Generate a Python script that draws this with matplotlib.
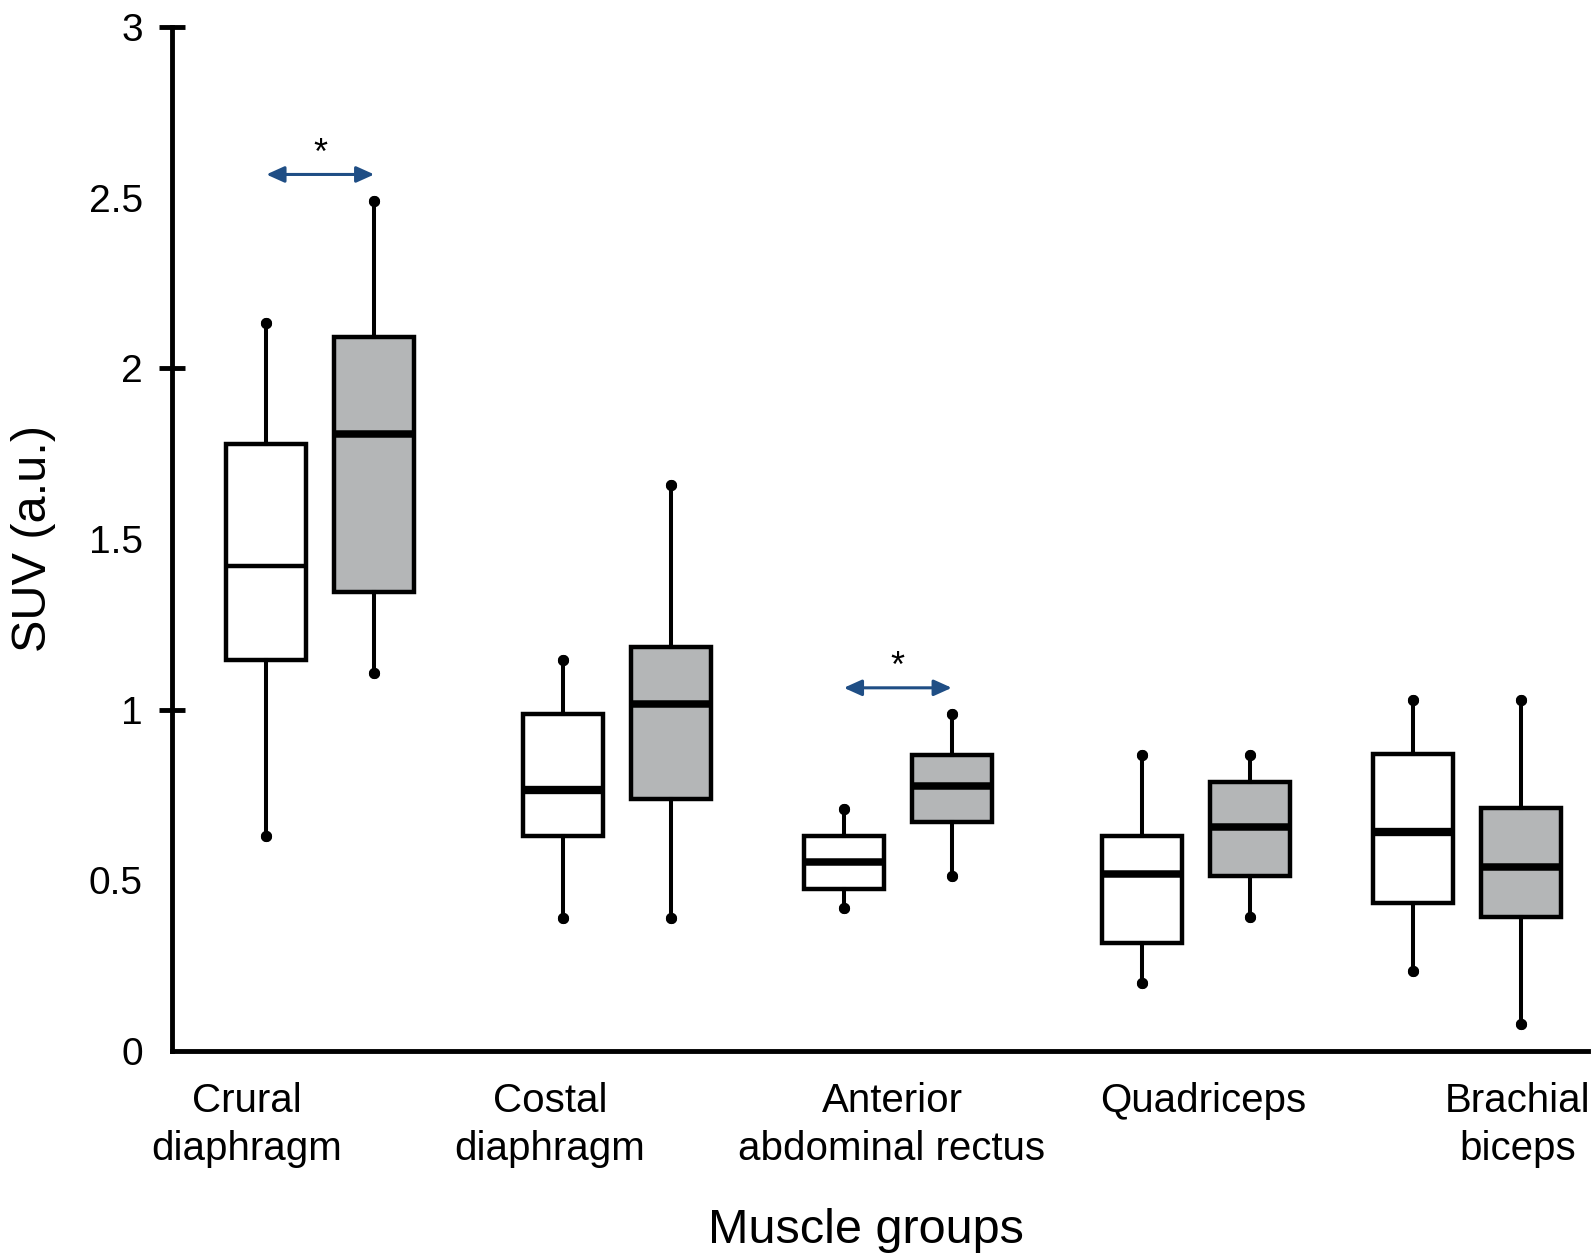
import matplotlib
matplotlib.use("Agg")
import matplotlib.pyplot as plt

plt.rcParams['font.family'] = ['Liberation Sans', 'DejaVu Sans']

# five-number summaries (SUV, a.u.)
groups = ['Crural\ndiaphragm', 'Costal\ndiaphragm', 'Anterior\nabdominal rectus',
          'Quadriceps', 'Brachial\nbiceps']
white_low = [0.63, 0.39, 0.42, 0.20, 0.235]
white_q1 = [1.145, 0.63, 0.475, 0.316, 0.435]
white_med = [1.42, 0.765, 0.555, 0.52, 0.642]
white_q3 = [1.778, 0.987, 0.631, 0.631, 0.869]
white_high = [2.134, 1.146, 0.71, 0.867, 1.028]

gray_low = [1.106, 0.39, 0.512, 0.393, 0.078]
gray_q1 = [1.344, 0.737, 0.672, 0.514, 0.393]
gray_med = [1.807, 1.016, 0.776, 0.655, 0.538]
gray_q3 = [2.093, 1.185, 0.867, 0.787, 0.711]
gray_high = [2.489, 1.659, 0.987, 0.867, 1.028]

# significance markers: (group index, arrow height, star height)
signif = [(0, 2.568, 2.60), (2, 1.064, 1.095)]

# layout
group_x = [1.483, 4.447, 7.258, 10.24, 12.948]
pair_off = 0.54
label_x = [0.75, 3.78, 7.20, 10.31, 13.46]

fig = plt.figure(figsize=(15.96, 12.55), dpi=100)
ax = fig.add_axes([172 / 1596, 1 - 1051 / 1255, 1416 / 1596, 1024 / 1255])


def make_stats(low, q1, med, q3, high):
    return [dict(whislo=a, q1=b, med=c, q3=d, whishi=e, fliers=[])
            for a, b, c, d, e in zip(low, q1, med, q3, high)]


box_kw = dict(widths=0.8, patch_artist=True, showfliers=False, capwidths=0,
              boxprops=dict(linewidth=3.2, edgecolor='black', joinstyle='miter'),
              whiskerprops=dict(linewidth=2.9, color='black'),
              capprops=dict(marker='o', markersize=7, color='black', linewidth=0),
              medianprops=dict(linewidth=5.4, color='black', solid_capstyle='butt'))

wb = ax.bxp(make_stats(white_low, white_q1, white_med, white_q3, white_high),
            positions=[g - pair_off for g in group_x], **box_kw)
gb = ax.bxp(make_stats(gray_low, gray_q1, gray_med, gray_q3, gray_high),
            positions=[g + pair_off for g in group_x], **box_kw)
for b in wb['boxes']:
    b.set_facecolor('white')
for b in gb['boxes']:
    b.set_facecolor('#b4b6b7')
# white median lines differ in weight in the original
wb['medians'][0].set_linewidth(3.2)
wb['medians'][1].set_linewidth(6.0)
wb['medians'][4].set_linewidth(6.0)

for gi, ya, ys in signif:
    x0 = group_x[gi] - pair_off
    x1 = group_x[gi] + pair_off
    ax.annotate('', xy=(x1, ya), xytext=(x0, ya),
                arrowprops=dict(arrowstyle='<|-|>,head_length=0.4,head_width=0.18',
                                mutation_scale=27, lw=2.2, color='#1f4e85',
                                shrinkA=0, shrinkB=0))
    ax.text(group_x[gi], ys, '*', ha='center', va='baseline', fontsize=26)

ax.set_xlim(0, 14.16)
ax.set_ylim(0, 3)
ax.set_xticks([])
ax.set_yticks([0, 0.5, 1, 1.5, 2, 2.5, 3])
ax.set_yticklabels(['0', '0.5', '1', '1.5', '2', '2.5', '3'])
ax.tick_params(axis='y', which='major', length=0, pad=21, labelsize=28)
ax.yaxis.remove_overlapping_locs = False
ax.set_yticks([1, 2, 3], minor=True)
ax.tick_params(axis='y', which='minor', direction='inout', length=19.4, width=3.5)

for s in ['top', 'right']:
    ax.spines[s].set_visible(False)
for s in ['left', 'bottom']:
    ax.spines[s].set_linewidth(3.5)

trans = ax.get_xaxis_transform()
for x, name in zip(label_x, groups):
    lines = name.split('\n')
    for k, line in enumerate(lines):
        ax.text(x, -0.0596 - 0.0468 * k, line, transform=trans,
                ha='center', va='baseline', fontsize=29, clip_on=False)

fig.text(866 / 1596, 1 - 1243 / 1255, 'Muscle groups', ha='center',
         va='baseline', fontsize=35)
fig.text(46 / 1596, 1 - 538 / 1255, 'SUV (a.u.)', rotation=90,
         rotation_mode='anchor', ha='center', va='baseline', fontsize=35)

fig.savefig('out.png', dpi=100)
